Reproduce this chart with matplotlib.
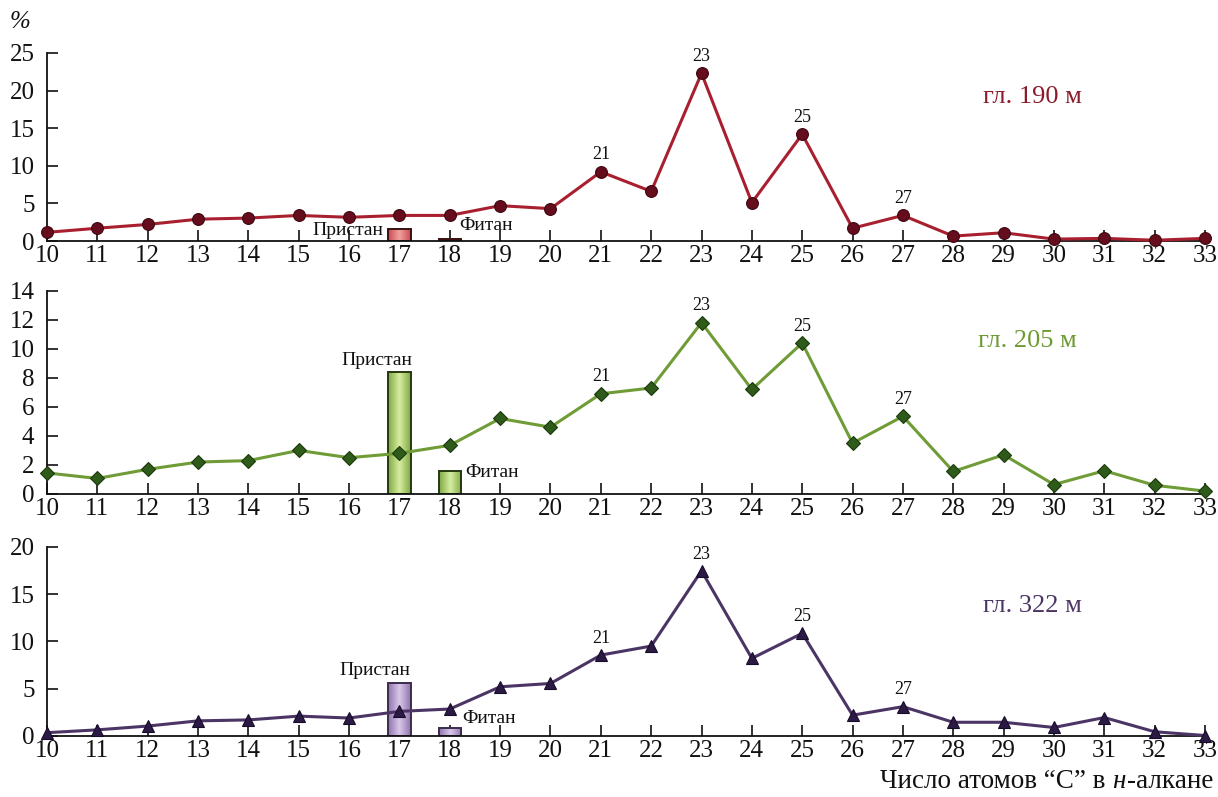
import numpy as np
import matplotlib
matplotlib.use("Agg")
import matplotlib.pyplot as plt
from matplotlib.colors import LinearSegmentedColormap

plt.rcParams['font.family'] = ['Liberation Serif', 'DejaVu Serif']

# Carbon numbers of n-alkanes
carbons = list(range(10, 34))

# Relative content (%) of n-alkanes at three depths
depth_190 = [1.15, 1.7, 2.2, 2.9, 3.05, 3.4, 3.15, 3.4, 3.4, 4.7, 4.3, 9.2, 6.6,
             22.3, 5.1, 14.2, 1.7, 3.4, 0.65, 1.1, 0.25, 0.35, 0.1, 0.35]
depth_205 = [1.45, 1.07, 1.7, 2.2, 2.3, 3.0, 2.5, 2.8, 3.35, 5.2, 4.6, 6.9, 7.3,
             11.8, 7.2, 10.4, 3.5, 5.35, 1.55, 2.7, 0.65, 1.6, 0.6, 0.2]
depth_322 = [0.35, 0.65, 1.05, 1.6, 1.7, 2.1, 1.9, 2.6, 2.85, 5.2, 5.55, 8.55, 9.5,
             17.45, 8.2, 10.85, 2.2, 3.1, 1.45, 1.45, 0.9, 1.95, 0.45, 0.05]

# Isoprenoids: pristane (at C17) and phytane (at C18)
iso_positions = [17, 18]
iso_names = ["Пристан", "Фитан"]
pristane = [1.6, 8.4, 5.6]
phytane = [0.25, 1.55, 0.8]

depth_titles = ["гл. 190 м", "гл. 205 м", "гл. 322 м"]
peak_carbons = [21, 23, 25, 27]
y_limits = [25, 14, 20]
y_steps = [5, 2, 5]
x_label = "Число атомов \u201cС\u201d в "

series = [depth_190, depth_205, depth_322]

styles = [
    dict(line="#a8202f", mk="o", mface="#650d1c", medge="#3e0610", ms=8.5,
         title="#8b1a2a", bar_light="#f2a0a0", bar_dark="#c84b52", bar_edge="#3a1010"),
    dict(line="#6f9c36", mk="D", mface="#2e5a1a", medge="#1c3a0e", ms=7,
         title="#6e9a34", bar_light="#d6eea0", bar_dark="#7fa845", bar_edge="#26380f"),
    dict(line="#4b3565", mk="^", mface="#2b1a45", medge="#170c28", ms=9,
         title="#4b3565", bar_light="#d9c8ea", bar_dark="#8f74ad", bar_edge="#3b2c4e"),
]

# label placements (data coords) for the isoprenoid names
prist_pos = [(16.67, 1.4, 'right'), (16.55, 9.2, 'center'), (16.51, 6.9, 'center')]
phyt_pos = [(18.18, 2.1, 'left'), (18.3, 1.45, 'left'), (18.25, 1.8, 'left')]
title_pos = [(0.851, 0.766), (0.847, 0.753), (0.851, 0.687)]

fig = plt.figure(figsize=(12.18, 7.97), dpi=100)
left, width = 47 / 1218, (1205 - 47) / 1218
rects = [
    (left, 1 - 241 / 797, width, (241 - 53) / 797),
    (left, 1 - 494 / 797, width, (494 - 290.7) / 797),
    (left, 1 - 736 / 797, width, (736 - 546.7) / 797),
]

bar_w = 0.44

for i, (rect, vals, st) in enumerate(zip(rects, series, styles)):
    ax = fig.add_axes(rect)
    ax.set_xlim(10, 33)
    ax.set_ylim(0, y_limits[i])
    ax.spines['top'].set_visible(False)
    ax.spines['right'].set_visible(False)
    for s in ('left', 'bottom'):
        ax.spines[s].set_linewidth(1.3)
        ax.spines[s].set_color('#111111')
    ax.set_xticks(carbons)
    ax.set_yticks(np.arange(0, y_limits[i] + 0.1, y_steps[i]))
    ax.tick_params(axis='x', direction='in', length=8, width=1.2, pad=3,
                   labelsize=18, colors='#111111')
    ax.tick_params(axis='y', direction='in', length=8, width=1.2, pad=9,
                   labelsize=18, colors='#111111')

    # isoprenoid bars with a shaded face
    heights = [pristane[i], phytane[i]]
    cmap = LinearSegmentedColormap.from_list(
        "bar", [st['bar_dark'], st['bar_light'], st['bar_dark']])
    grad = np.linspace(0, 1, 64).reshape(1, -1)
    bars = ax.bar(iso_positions, heights, width=bar_w, color=st['bar_dark'],
                  edgecolor=st['bar_edge'], linewidth=1.4, zorder=2)
    for b in bars:
        x0, w, h = b.get_x(), b.get_width(), b.get_height()
        im = ax.imshow(grad, cmap=cmap, aspect='auto',
                       extent=(x0, x0 + w, 0, h), zorder=2.1)
        im.set_clip_path(b)
        b.set_zorder(2.2)
        b.set_facecolor('none')
    ax.set_xlim(10, 33)
    ax.set_ylim(0, y_limits[i])

    ax.plot(carbons, vals, color=st['line'], lw=2.2, marker=st['mk'],
            markersize=st['ms'], markerfacecolor=st['mface'],
            markeredgecolor=st['medge'], markeredgewidth=0.8, zorder=3,
            clip_on=False)

    for c in peak_carbons:
        v = vals[carbons.index(c)]
        ax.annotate(str(c), (c, v), xytext=(0, 6), textcoords='offset points',
                    ha='center', va='bottom', fontsize=13, color='#111111')

    px, py, pha = prist_pos[i]
    ax.text(px, py, iso_names[0], ha=pha, va='center', fontsize=14,
            color='#111111')
    fx, fy, fha = phyt_pos[i]
    ax.text(fx, fy, iso_names[1], ha=fha, va='center', fontsize=14,
            color='#111111')

    tx, ty = title_pos[i]
    ax.text(tx, ty, depth_titles[i], transform=ax.transAxes, ha='center',
            va='center', fontsize=19, color=st['title'])

# unit label and axis title
fig.text(20 / 1218, 1 - 22 / 797, "%", ha='center', va='center', fontsize=18,
         style='italic', color='#111111')
xl_size = 19.5
t_end = fig.text(1213 / 1218, 1 - 781 / 797, "-алкане", ha='right', va='center',
                 fontsize=xl_size, color='#111111')
t_mid = fig.text(0, 0, "н", ha='right', va='center', fontsize=xl_size,
                 style='italic', color='#111111')
fig.canvas.draw()
r = fig.canvas.get_renderer()
bb = t_end.get_window_extent(r)
t_mid.set_position((bb.x0 / fig.bbox.width - 0.001, 1 - 781 / 797))
fig.canvas.draw()
bb2 = t_mid.get_window_extent(r)
fig.text(bb2.x0 / fig.bbox.width, 1 - 781 / 797, x_label, ha='right', va='center',
         fontsize=xl_size, color='#111111')

fig.savefig("out.png", dpi=100)
